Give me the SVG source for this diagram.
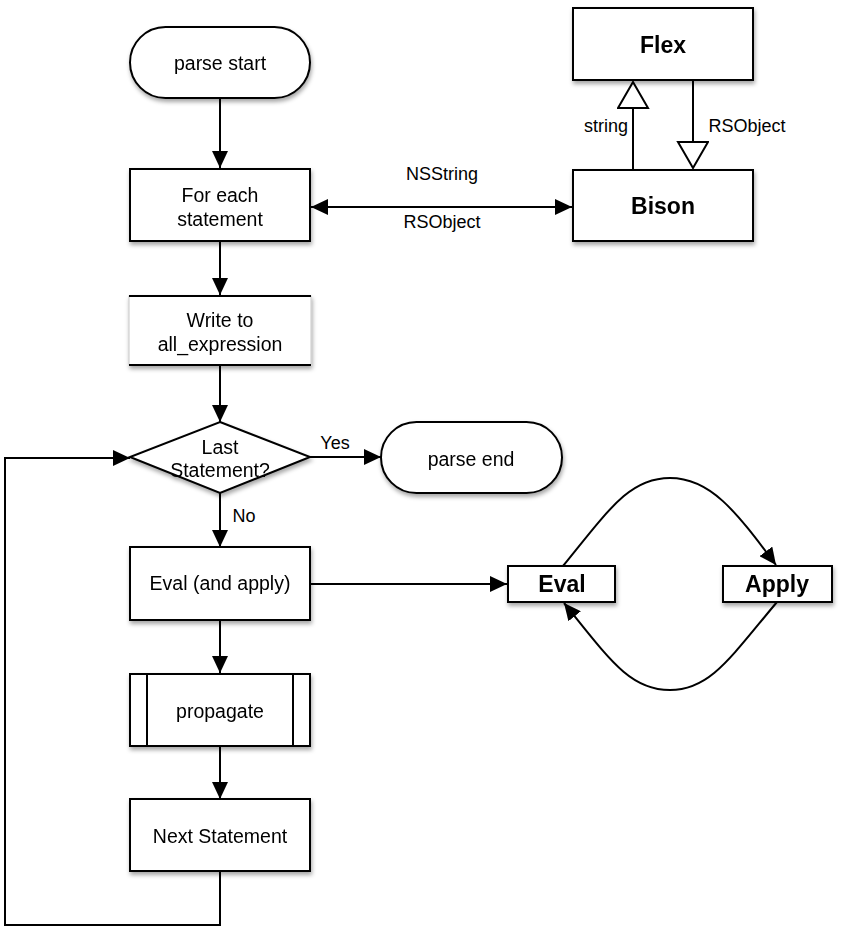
<svg xmlns="http://www.w3.org/2000/svg" width="844" height="932" viewBox="0 0 844 932">
  <style>
    .box { fill: #fff; stroke: #000; stroke-width: 2; }
    .lbl { font-family: "Liberation Sans", Arial, sans-serif; font-size: 19.5px; fill: #000; text-anchor: middle; }
    .big { font-family: "Liberation Sans", Arial, sans-serif; font-size: 23px; font-weight: bold; fill: #000; text-anchor: middle; }
    .edge { font-family: "Liberation Sans", Arial, sans-serif; font-size: 18px; fill: #000; text-anchor: middle; }
    .wire { fill: none; stroke: #000; stroke-width: 2; }
  </style>
  <defs>
    <filter id="shadow" x="-10%" y="-10%" width="130%" height="140%">
      <feDropShadow dx="1" dy="3" stdDeviation="2" flood-color="#000" flood-opacity="0.35"/>
    </filter>
    <marker id="arrow" markerUnits="userSpaceOnUse" markerWidth="18" markerHeight="16" refX="17" refY="8" orient="auto-start-reverse">
      <path d="M0,0 L17,8 L0,16 z" fill="#000"/>
    </marker>
    <marker id="hollow" markerUnits="userSpaceOnUse" markerWidth="30" markerHeight="34" refX="27" refY="16" orient="auto">
      <path d="M1,1 L27,16 L1,31 z" fill="#fff" stroke="#000" stroke-width="2"/>
    </marker>
  </defs>

  <rect width="844" height="932" fill="#fff"/>

  <!-- connectors -->
  <g id="connectors">
    <line class="wire" x1="220" y1="98" x2="220" y2="168" marker-end="url(#arrow)"/>
    <line class="wire" x1="220" y1="241" x2="220" y2="295" marker-end="url(#arrow)"/>
    <line class="wire" x1="220" y1="366" x2="220" y2="422" marker-end="url(#arrow)"/>
    <line class="wire" x1="310" y1="457" x2="381" y2="457" marker-end="url(#arrow)"/>
    <line class="wire" x1="220" y1="493" x2="220" y2="547" marker-end="url(#arrow)"/>
    <line class="wire" x1="220" y1="620" x2="220" y2="673" marker-end="url(#arrow)"/>
    <line class="wire" x1="220" y1="746" x2="220" y2="799" marker-end="url(#arrow)"/>
    <polyline class="wire" points="220,872 220,925 5,925 5,458 130,458" marker-end="url(#arrow)"/>
    <line class="wire" x1="311" y1="207" x2="572" y2="207" marker-start="url(#arrow)" marker-end="url(#arrow)"/>
    <line class="wire" x1="310" y1="584" x2="507" y2="584" marker-end="url(#arrow)"/>
    <path class="wire" d="M563,566 C610,508 630,478 670,478 C710,478 735,510 776,565" marker-end="url(#arrow)"/>
    <path class="wire" d="M777,602 C730,658 710,690 670,690 C630,690 610,660 564,603" marker-end="url(#arrow)"/>
    <line class="wire" x1="633" y1="170" x2="633" y2="82" marker-end="url(#hollow)"/>
    <line class="wire" x1="693" y1="80" x2="693" y2="168" marker-end="url(#hollow)"/>
    <text class="edge" x="442" y="180">NSString</text>
    <text class="edge" x="442" y="228">RSObject</text>
    <text class="edge" x="606" y="132">string</text>
    <text class="edge" x="747" y="132">RSObject</text>
    <text class="edge" x="335" y="449">Yes</text>
    <text class="edge" x="244" y="522">No</text>
  </g>

  <g id="parse-start" filter="url(#shadow)">
    <rect class="box" x="130" y="27" width="180" height="71" rx="35.5"/>
    <text class="lbl" x="220" y="70">parse start</text>
  </g>

  <g id="for-each" filter="url(#shadow)">
    <rect class="box" x="130" y="169" width="180" height="72"/>
    <text class="lbl" x="220" y="202">For each</text>
    <text class="lbl" x="220" y="226">statement</text>
  </g>

  <g id="write-all-expression" filter="url(#shadow)">
    <rect x="129" y="296" width="182" height="69" fill="#fff" stroke="#c8c8c8" stroke-width="1"/>
    <line x1="129" y1="296" x2="311" y2="296" stroke="#000" stroke-width="2"/>
    <line x1="129" y1="365" x2="311" y2="365" stroke="#000" stroke-width="2"/>
    <text class="lbl" x="220" y="327">Write to</text>
    <text class="lbl" x="220" y="351">all_expression</text>
  </g>

  <g id="last-statement" filter="url(#shadow)">
    <polygon class="box" points="220,422 310,457 220,493 130,457"/>
    <text class="lbl" x="220" y="454">Last</text>
    <text class="lbl" x="220" y="477">Statement?</text>
  </g>

  <g id="parse-end" filter="url(#shadow)">
    <rect class="box" x="381" y="422" width="181" height="71" rx="35.5"/>
    <text class="lbl" x="471" y="466">parse end</text>
  </g>

  <g id="eval-apply" filter="url(#shadow)">
    <rect class="box" x="130" y="547" width="180" height="73"/>
    <text class="lbl" x="220" y="590">Eval (and apply)</text>
  </g>

  <g id="propagate" filter="url(#shadow)">
    <rect class="box" x="130" y="674" width="180" height="72"/>
    <line x1="147" y1="674" x2="147" y2="746" stroke="#000" stroke-width="2"/>
    <line x1="293" y1="674" x2="293" y2="746" stroke="#000" stroke-width="2"/>
    <text class="lbl" x="220" y="718">propagate</text>
  </g>

  <g id="next-statement" filter="url(#shadow)">
    <rect class="box" x="130" y="799" width="180" height="72"/>
    <text class="lbl" x="220" y="843">Next Statement</text>
  </g>

  <g id="flex" filter="url(#shadow)">
    <rect class="box" x="573" y="8" width="180" height="72"/>
    <text class="big" x="663" y="53">Flex</text>
  </g>

  <g id="bison" filter="url(#shadow)">
    <rect class="box" x="573" y="170" width="180" height="71"/>
    <text class="big" x="663" y="214">Bison</text>
  </g>

  <g id="eval" filter="url(#shadow)">
    <rect class="box" x="508" y="566" width="107" height="36"/>
    <text class="big" x="562" y="592">Eval</text>
  </g>

  <g id="apply" filter="url(#shadow)">
    <rect class="box" x="723" y="566" width="109" height="36"/>
    <text class="big" x="777" y="592">Apply</text>
  </g>
</svg>
